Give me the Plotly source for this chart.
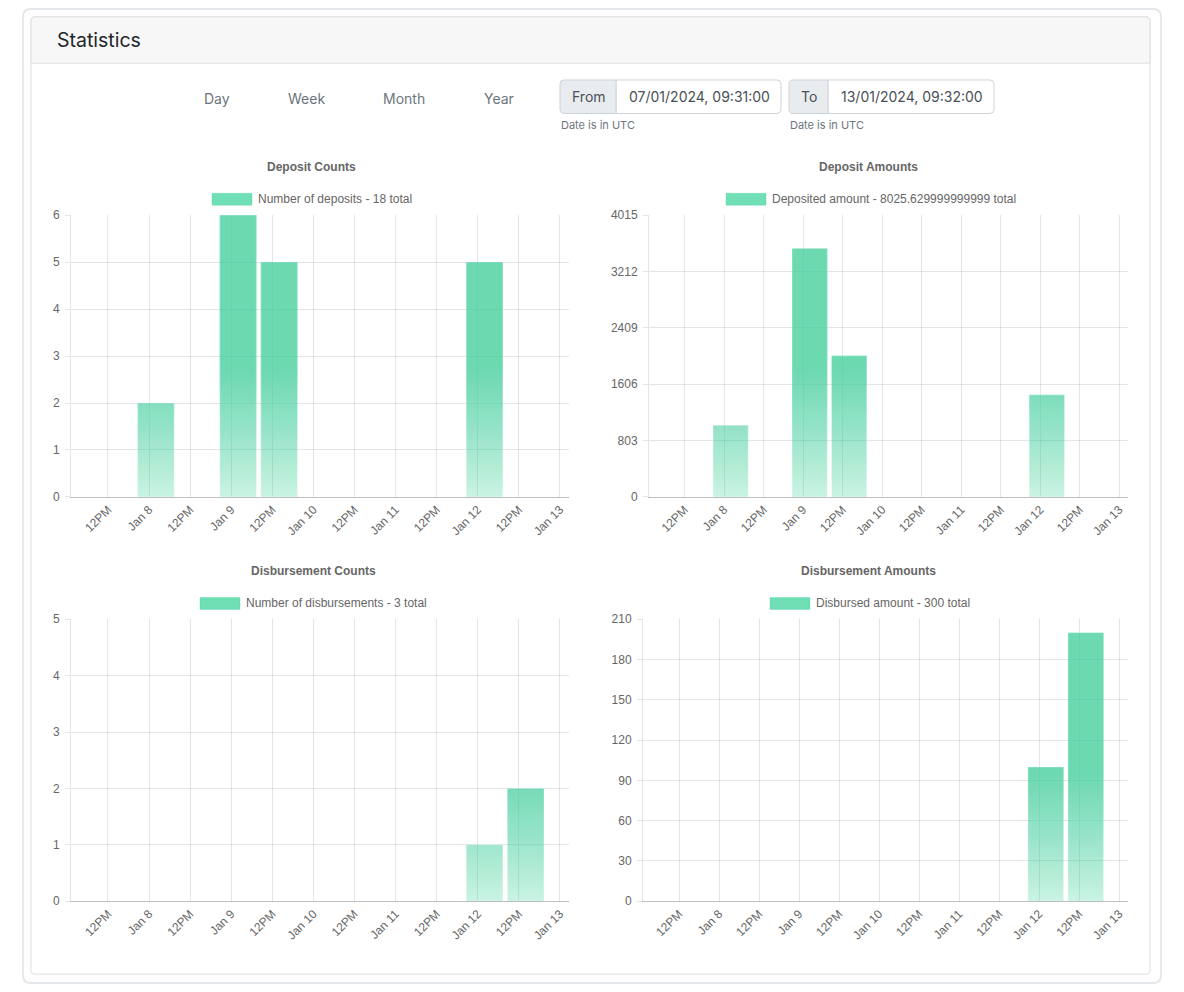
import plotly.graph_objects as go
import pandas as pd

# ---------------- data ----------------
DEPOSIT_TIMES = ["2024-01-08 02:00", "2024-01-09 02:00", "2024-01-09 14:00", "2024-01-12 02:00"]
DEPOSIT_COUNTS = [2, 6, 5, 5]
DEPOSIT_AMOUNTS = [1020, 3540, 2010, 1455.63]

DISB_TIMES = ["2024-01-12 02:00", "2024-01-12 14:00"]
DISB_COUNTS = [1, 2]
DISB_AMOUNTS = [100, 200]

X_TICK_VALUES = list(pd.date_range("2024-01-07 12:00", "2024-01-13 00:00", freq="12h"))
X_TICK_LABELS = ["12PM", "Jan 8", "12PM", "Jan 9", "12PM", "Jan 10",
                 "12PM", "Jan 11", "12PM", "Jan 12", "12PM", "Jan 13"]
X_RANGE = ["2024-01-07 01:12", "2024-01-13 02:40"]

DEP_COUNT_TICKS = [0, 1, 2, 3, 4, 5, 6]
DEP_AMOUNT_TICKS = [0, 803, 1606, 2409, 3212, 4015]
DIS_COUNT_TICKS = [0, 1, 2, 3, 4, 5]
DIS_AMOUNT_TICKS = [0, 30, 60, 90, 120, 150, 180, 210]

TITLES = ["Deposit Counts", "Deposit Amounts", "Disbursement Counts", "Disbursement Amounts"]
LEGEND_LABELS = ["Number of deposits - 18 total",
                 "Deposited amount - 8025.629999999999 total",
                 "Number of disbursements - 3 total",
                 "Disbursed amount - 300 total"]

# ---------------- page geometry helpers ----------------
W, H = 1184, 992


def px(X):
    return X / W


def py(Y):
    return 1 - Y / H


def rpath(X0, Y0, X1, Y1, r=(4, 4, 4, 4)):
    tl, tr, br, bl = r

    def P(x, y):
        return f"{px(x):.6f},{py(y):.6f}"
    s = f"M{P(X0 + tl, Y0)} L{P(X1 - tr, Y0)} Q{P(X1, Y0)} {P(X1, Y0 + tr)} "
    s += f"L{P(X1, Y1 - br)} Q{P(X1, Y1)} {P(X1 - br, Y1)} "
    s += f"L{P(X0 + bl, Y1)} Q{P(X0, Y1)} {P(X0, Y1 - bl)} "
    s += f"L{P(X0, Y0 + tl)} Q{P(X0, Y0)} {P(X0 + tl, Y0)} Z"
    return s


UI_FONT = "Inter, Roboto, sans-serif"
CH_FONT = "Liberation Sans, Arial, sans-serif"
BASE_RGB = "76,215,164"

fig = go.Figure()

# ---------------- subplot definitions ----------------
panels = [
    (DEPOSIT_TIMES, DEPOSIT_COUNTS, DEP_COUNT_TICKS, 1, (71, 569), (211, 497)),
    (DEPOSIT_TIMES, DEPOSIT_AMOUNTS, DEP_AMOUNT_TICKS, 2, (649, 1128), (211, 497)),
    (DISB_TIMES, DISB_COUNTS, DIS_COUNT_TICKS, 3, (71, 569), (621, 907)),
    (DISB_TIMES, DISB_AMOUNTS, DIS_AMOUNT_TICKS, 4, (643, 1128), (621, 907)),
]

BAR_WIDTH_MS = 10.7 * 3600 * 1000
N_LAYERS = 32
FADE_FRAC = 0.45
A_BOTTOM, A_TOP = 0.3, 0.78

layout_axes = {}
for times, values, ticks, i, (X0, X1), (Yt, Yb) in panels:
    ymax = ticks[-1]
    xa = "x" if i == 1 else f"x{i}"
    ya = "y" if i == 1 else f"y{i}"
    fade_top = ymax * FADE_FRAC
    # cumulative translucent layers -> vertical gradient inside each bar
    prev_alpha = 0.0
    for k in range(N_LAYERS + 1):
        lo = fade_top * k / N_LAYERS
        target = A_BOTTOM + (A_TOP - A_BOTTOM) * min((k + 0.5) / N_LAYERS, 1.0)
        layer_alpha = 1 - (1 - target) / (1 - prev_alpha)
        prev_alpha = target
        heights = [(v - lo) if v > lo else None for v in values]
        fig.add_trace(go.Bar(
            x=times, y=heights, base=[lo] * len(values), width=BAR_WIDTH_MS,
            marker=dict(color=f"rgba({BASE_RGB},{layer_alpha:.4f})", line=dict(width=0)),
            xaxis=xa, yaxis=ya, showlegend=False, hoverinfo="skip"))
    # bar outline (the actual data bars)
    fig.add_trace(go.Bar(
        x=times, y=values, width=BAR_WIDTH_MS,
        marker=dict(color="rgba(0,0,0,0)", line=dict(width=1, color="rgba(255,255,255,0.35)")),
        xaxis=xa, yaxis=ya, showlegend=False))

    key = "" if i == 1 else str(i)
    layout_axes[f"xaxis{key}"] = dict(
        domain=[px(X0), px(X1)], anchor=ya, type="date", range=X_RANGE,
        tickmode="array", tickvals=X_TICK_VALUES, ticktext=X_TICK_LABELS,
        tickangle=-45, showgrid=True, gridcolor="rgba(0,0,0,0.1)", gridwidth=1,
        ticks="", showline=True, linecolor="rgba(0,0,0,0.25)", linewidth=1,
        zeroline=False, tickfont=dict(family=CH_FONT, size=12, color="#666"),
        fixedrange=True)
    layout_axes[f"yaxis{key}"] = dict(
        domain=[py(Yb), py(Yt)], anchor=xa, range=[0, ymax],
        tickmode="array", tickvals=ticks, showgrid=True,
        gridcolor="rgba(0,0,0,0.1)", gridwidth=1, ticks="outside", ticklen=5,
        tickcolor="rgba(0,0,0,0.1)", showline=True, linecolor="rgba(0,0,0,0.1)",
        zeroline=False, ticklabelstandoff=3,
        tickfont=dict(family=CH_FONT, size=12, color="#666"), fixedrange=True)

# ---------------- decorations ----------------
shapes = []
shapes.append(dict(type="path", xref="paper", yref="paper", layer="below",
                   path=rpath(23, 2, 1161, 990, (8, 8, 8, 8)),
                   line=dict(color="#e4e7eb", width=2), fillcolor="white"))
shapes.append(dict(type="path", xref="paper", yref="paper", layer="below",
                   path=rpath(31, 10, 1150, 981, (4, 4, 4, 4)),
                   line=dict(color="#dedede", width=1), fillcolor="white"))
shapes.append(dict(type="path", xref="paper", yref="paper", layer="below",
                   path=rpath(31, 10, 1150, 57, (4, 4, 0, 0)),
                   line=dict(color="#dedede", width=1), fillcolor="#f7f7f7"))
for (a0, a1, i1) in [(560, 616, 781), (789, 828, 994)]:
    shapes.append(dict(type="path", xref="paper", yref="paper", layer="below",
                       path=rpath(a1, 74, i1, 108, (0, 4, 4, 0)),
                       line=dict(color="#ced4da", width=1), fillcolor="white"))
    shapes.append(dict(type="path", xref="paper", yref="paper", layer="below",
                       path=rpath(a0, 74, a1, 108, (4, 0, 0, 4)),
                       line=dict(color="#ced4da", width=1), fillcolor="#e9ecef"))

for (b0, b1, by) in [(212, 252, 189), (726, 766, 189), (200, 240, 599), (770, 810, 599)]:
    shapes.append(dict(type="rect", xref="paper", yref="paper", layer="above",
                       x0=px(b0), x1=px(b1), y0=py(by + 12), y1=py(by),
                       line=dict(color=f"rgba({BASE_RGB},0.35)", width=1),
                       fillcolor=f"rgba({BASE_RGB},0.8)"))

annotations = []


def txt(text, X, Y, size, color, anchor="center", family=UI_FONT, bold=False):
    if bold:
        text = f"<b>{text}</b>"
    annotations.append(dict(text=text, x=px(X), y=py(Y), xref="paper", yref="paper",
                            xanchor=anchor, yanchor="middle", showarrow=False,
                            font=dict(family=family, size=size, color=color)))


txt("Statistics", 55, 33, 19.5, "#212529", anchor="left")
for label, X in zip(["Day", "Week", "Month", "Year"], [217, 307, 404, 499]):
    txt(label, X, 93, 14, "#6c757d")
txt("From", 588.5, 91, 14, "#495057")
txt("07/01/2024, 09:31:00", 627, 91, 14, "#495057", anchor="left")
txt("To", 808.5, 91, 14, "#495057")
txt("13/01/2024, 09:32:00", 839, 91, 14, "#495057", anchor="left")
txt("Date is in UTC", 559, 120, 11, "#6c757d", anchor="left")
txt("Date is in UTC", 788, 120, 11, "#6c757d", anchor="left")

for title, (X, Y) in zip(TITLES, [(312, 162), (868, 162), (313, 572), (868, 572)]):
    txt(title, X, Y, 12, "#666", family=CH_FONT, bold=True)
for label, (X, Y) in zip(LEGEND_LABELS, [(256, 195), (770, 195), (244, 605), (814, 605)]):
    txt(label, X, Y, 12, "#666", anchor="left", family=CH_FONT)

fig.update_layout(
    width=W, height=H, margin=dict(l=0, r=0, t=0, b=0),
    paper_bgcolor="white", plot_bgcolor="rgba(0,0,0,0)",
    barmode="overlay", showlegend=False,
    shapes=shapes, annotations=annotations,
    **layout_axes,
)

fig.write_html(
    "out.html",
    config={"displayModeBar": False},
    post_script=("document.body.style.margin='0';"
                 "document.body.style.overflow='hidden';"
                 "document.documentElement.style.overflow='hidden';"),
)
